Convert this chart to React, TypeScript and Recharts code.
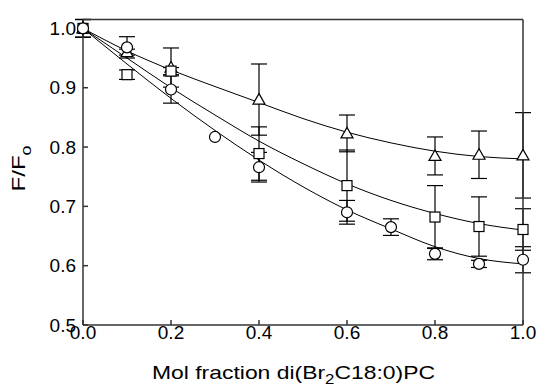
import { ComposedChart, Line, Scatter, ErrorBar, XAxis, YAxis } from "recharts";

// measured points (open symbols) with error bar half-widths
const triX = [0, 0.1, 0.2, 0.4, 0.6, 0.8, 0.9, 1.0];
const triY = [1.0, 0.96, 0.934, 0.88, 0.823, 0.785, 0.787, 0.786];
const triErr = [0.015, 0.005, 0.033, 0.06, 0.031, 0.032, 0.04, 0.072];

const sqX = [0, 0.1, 0.2, 0.4, 0.6, 0.8, 0.9, 1.0];
const sqY = [1.0, 0.922, 0.928, 0.789, 0.735, 0.682, 0.666, 0.661];
const sqErr = [0.015, 0.008, 0.006, 0.045, 0.06, 0.053, 0.05, 0.035];

const circX = [0, 0.1, 0.2, 0.3, 0.4, 0.6, 0.7, 0.8, 0.9, 1.0];
const circY = [1.0, 0.968, 0.897, 0.817, 0.766, 0.69, 0.665, 0.62, 0.603, 0.61];
const circErr = [0.015, 0.018, 0.023, 0, 0.025, 0.02, 0.014, 0.01, 0.006, 0.022];

// fitted curves
const fitX = [0, 0.1, 0.2, 0.3, 0.4, 0.5, 0.6, 0.7, 0.8, 0.9, 1.0];
const triFit = [1.0, 0.962, 0.93, 0.902, 0.875, 0.848, 0.825, 0.807, 0.793, 0.784, 0.78];
const sqFit = [1.0, 0.95, 0.9, 0.854, 0.81, 0.772, 0.738, 0.71, 0.688, 0.671, 0.66];
const circFit = [1.0, 0.94, 0.882, 0.828, 0.778, 0.733, 0.694, 0.662, 0.632, 0.612, 0.603];

const xTicks = [0, 0.2, 0.4, 0.6, 0.8, 1.0];
const yTicks = [0.5, 0.6, 0.7, 0.8, 0.9, 1.0];

const pts = (xs: number[], ys: number[], es: number[]) =>
  xs.map((x, i) => ({ x, y: ys[i], err: es[i] }));

const fitData = fitX.map((x, i) => ({ x, tri: triFit[i], sq: sqFit[i], circ: circFit[i] }));

const font = "'Liberation Sans', Arial, sans-serif";
const axisColor = "#333";

const Circle = (p: any) => (
  <circle cx={p.cx} cy={p.cy} r={5.5} fill="#fff" stroke="#000" strokeWidth={1.2} />
);
const Square = (p: any) => (
  <rect x={p.cx - 5} y={p.cy - 5} width={10} height={10} fill="#fff" stroke="#000" strokeWidth={1.2} />
);
const Triangle = (p: any) => (
  <polygon
    points={`${p.cx},${p.cy - 6} ${p.cx - 6},${p.cy + 4.5} ${p.cx + 6},${p.cy + 4.5}`}
    fill="#fff"
    stroke="#000"
    strokeWidth={1.2}
  />
);

const YLabel = () => (
  <text
    x={0}
    y={0}
    transform="translate(25, 168.5) rotate(-90)"
    textAnchor="middle"
    fontSize={19}
    fontFamily={font}
    fill="#000"
    textLength={46}
    lengthAdjust="spacingAndGlyphs"
  >
    F/F<tspan dy={6} fontSize={14}>o</tspan>
  </text>
);

const XLabel = () => (
  <text
    x={293.5}
    y={379}
    textAnchor="middle"
    fontSize={19}
    fontFamily={font}
    fill="#000"
    textLength={283}
    lengthAdjust="spacingAndGlyphs"
  >
    Mol fraction di(Br<tspan dy={5} fontSize={14}>2</tspan>
    <tspan dy={-5}>C18:0)PC</tspan>
  </text>
);

export default function App() {
  const tickStyle = { fontSize: 19, fontFamily: font, fill: "#000" };
  return (
    <div style={{ width: 539, height: 387 }}>
      <style>{"body { margin: 0; overflow: hidden; }"}</style>
      <ComposedChart
        width={539}
        height={387}
        data={fitData}
        margin={{ top: 18.5, right: 15, bottom: 0, left: 23 }}
      >
        <XAxis
          dataKey="x"
          type="number"
          domain={[0, 1]}
          ticks={xTicks}
          tickFormatter={(v: number) => v.toFixed(1)}
          tickSize={-5}
          tickMargin={6}
          height={62}
          tick={tickStyle}
          stroke={axisColor}
          strokeWidth={1.5}
          label={<XLabel />}
        />
        <XAxis
          xAxisId="top"
          orientation="top"
          dataKey="x"
          type="number"
          domain={[0, 1]}
          ticks={xTicks}
          tickSize={-5}
          tick={false}
          height={1}
          stroke={axisColor}
          strokeWidth={1.5}
        />
        <YAxis
          type="number"
          domain={[0.5, 1.0]}
          ticks={yTicks}
          tickFormatter={(v: number) => v.toFixed(1)}
          tickSize={-5}
          tickMargin={12}
          width={60}
          tick={tickStyle}
          stroke={axisColor}
          strokeWidth={1.5}
          label={<YLabel />}
        />
        <YAxis
          yAxisId="right"
          orientation="right"
          type="number"
          domain={[0.5, 1.0]}
          ticks={yTicks}
          tickSize={-5}
          tick={false}
          width={1}
          stroke={axisColor}
          strokeWidth={1.5}
        />
        <Line dataKey="tri" type="monotone" stroke="#000" strokeWidth={1} dot={false} isAnimationActive={false} />
        <Line dataKey="sq" type="monotone" stroke="#000" strokeWidth={1} dot={false} isAnimationActive={false} />
        <Line dataKey="circ" type="monotone" stroke="#000" strokeWidth={1} dot={false} isAnimationActive={false} />
        <Scatter data={pts(triX, triY, triErr)} dataKey="y" shape={Triangle} isAnimationActive={false}>
          <ErrorBar dataKey="err" direction="y" width={8} stroke="#000" strokeWidth={1.2} />
        </Scatter>
        <Scatter data={pts(sqX, sqY, sqErr)} dataKey="y" shape={Square} isAnimationActive={false}>
          <ErrorBar dataKey="err" direction="y" width={8} stroke="#000" strokeWidth={1.2} />
        </Scatter>
        <Scatter data={pts(circX, circY, circErr)} dataKey="y" shape={Circle} isAnimationActive={false}>
          <ErrorBar dataKey="err" direction="y" width={8} stroke="#000" strokeWidth={1.2} />
        </Scatter>
      </ComposedChart>
    </div>
  );
}
